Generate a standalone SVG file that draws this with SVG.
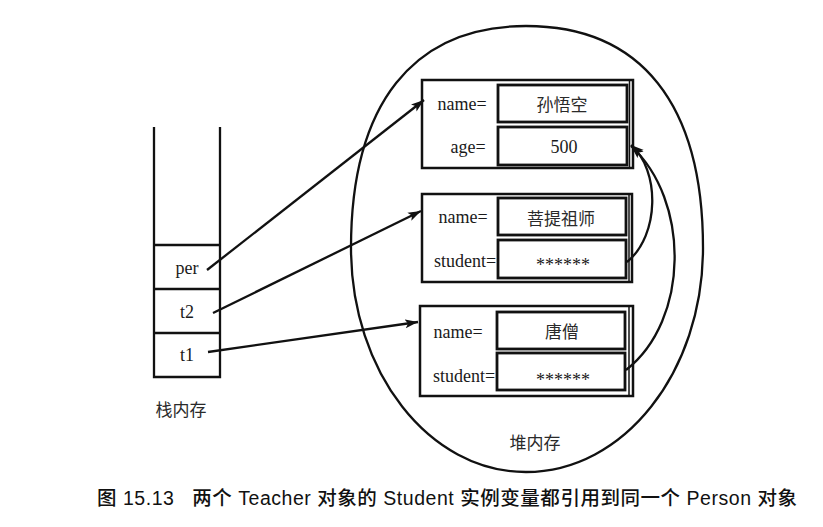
<svg xmlns="http://www.w3.org/2000/svg" width="823" height="527" viewBox="0 0 823 527">
<defs>
<marker id="ah" markerUnits="userSpaceOnUse" markerWidth="14" markerHeight="10" refX="13" refY="5" orient="auto">
<path d="M0,0.5 L13,5 L0,9.5 L3,5 Z" fill="#111"/>
</marker>
<style>
.ln{stroke:#111;stroke-width:2.3;fill:none}
.thin{stroke:#111;stroke-width:1.5;fill:none}
.box{stroke:#111;stroke-width:2.5;fill:#fff}
.ibox{stroke:#111;stroke-width:2.8;fill:#fff}
.t{font-family:"Liberation Serif","Noto Sans CJK SC",serif;font-size:18px;fill:#1a1a1a;text-anchor:middle}
.cjk{font-family:"Liberation Serif","Noto Sans CJK SC",serif;font-size:17px;fill:#2a2a2a;text-anchor:middle}
.cap{font-family:"Liberation Sans","Noto Sans CJK SC",sans-serif;font-size:19.5px;font-weight:500;fill:#111}
.arr{stroke:#111;stroke-width:2.3;fill:none;marker-end:url(#ah)}
</style>
</defs>
<rect width="823" height="527" fill="#fff"/>

<g id="heap">
<path class="ln" d="M351,248 C351,104 413,26 526,26 C641,26 703,104 703,248 C703,372 624,472 526,472 C429,472 351,372 351,248 Z"/>
<text class="cjk" x="535" y="449">堆内存</text>
</g>

<g id="stack">
<path class="ln" d="M154,127 V377 H220 V127"/>
<line class="ln" x1="154" y1="245" x2="220" y2="245"/>
<line class="ln" x1="154" y1="289" x2="220" y2="289"/>
<line class="ln" x1="154" y1="333" x2="220" y2="333"/>
<text class="t" x="187" y="274">per</text>
<text class="t" x="187" y="318">t2</text>
<text class="t" x="187" y="361">t1</text>
<text class="cjk" x="181" y="416">栈内存</text>
</g>

<g id="person">
<rect class="box" x="422" y="80" width="211" height="88"/>
<line class="thin" x1="629.5" y1="81" x2="629.5" y2="167"/>
<rect class="ibox" x="498" y="85" width="129" height="37"/>
<rect class="ibox" x="498" y="127" width="129" height="38"/>
<text class="t" x="462" y="110">name=</text>
<text class="t" x="468" y="153">age=</text>
<text class="cjk" x="562" y="111">孙悟空</text>
<text class="t" x="564" y="153">500</text>
</g>

<g id="teacher1">
<rect class="box" x="422" y="194" width="210" height="88"/>
<line class="thin" x1="629" y1="195" x2="629" y2="281"/>
<rect class="ibox" x="498" y="198" width="128" height="37"/>
<rect class="ibox" x="498" y="240" width="128" height="38"/>
<text class="t" x="463" y="223">name=</text>
<text class="t" x="465" y="267">student=</text>
<text class="cjk" x="561" y="225">菩提祖师</text>
<text class="t" x="563" y="271" font-size="17">******</text>
</g>

<g id="teacher2">
<rect class="box" x="420" y="306" width="213" height="90"/>
<line class="thin" x1="629" y1="307" x2="629" y2="395"/>
<rect class="ibox" x="497" y="312" width="128" height="37"/>
<rect class="ibox" x="497" y="353" width="128" height="37"/>
<text class="t" x="458" y="338">name=</text>
<text class="t" x="464" y="382">student=</text>
<text class="cjk" x="562" y="338">唐僧</text>
<text class="t" x="563" y="386" font-size="17">******</text>
</g>

<g id="connectors">
<line class="arr" x1="207" y1="270" x2="424" y2="100"/>
<line class="arr" x1="213" y1="313" x2="421" y2="211"/>
<line class="arr" x1="208" y1="352" x2="418" y2="322"/>
<path class="arr" d="M627,262 C660,235 660,170 631,145"/>
<path class="arr" d="M626,370 C690,320 690,200 631,146"/>
</g>

<text class="cap" x="97" y="505" xml:space="preserve" textLength="700" lengthAdjust="spacing">图 15.13   两个 Teacher 对象的 Student 实例变量都引用到同一个 Person 对象</text>
</svg>
